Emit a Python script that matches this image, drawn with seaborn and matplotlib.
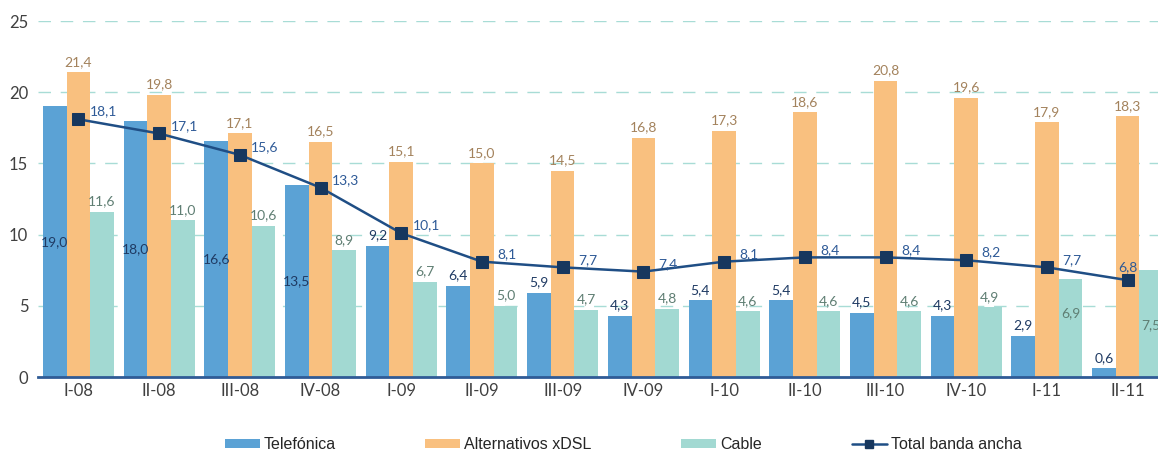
import numpy as np
import pandas as pd
import matplotlib
matplotlib.use("Agg")
import matplotlib.pyplot as plt
import seaborn as sns
from matplotlib.patches import Patch
from matplotlib.lines import Line2D
from matplotlib.ticker import FixedLocator

# ---------------- data ----------------
periods = ['I-08', 'II-08', 'III-08', 'IV-08', 'I-09', 'II-09', 'III-09', 'IV-09',
           'I-10', 'II-10', 'III-10', 'IV-10', 'I-11', 'II-11']
telefonica = [19.0, 18.0, 16.6, 13.5, 9.2, 6.4, 5.9, 4.3, 5.4, 5.4, 4.5, 4.3, 2.9, 0.6]
alternativos = [21.4, 19.8, 17.1, 16.5, 15.1, 15.0, 14.5, 16.8, 17.3, 18.6, 20.8, 19.6, 17.9, 18.3]
cable = [11.6, 11.0, 10.6, 8.9, 6.7, 5.0, 4.7, 4.8, 4.6, 4.6, 4.6, 4.9, 6.9, 7.5]
total = [18.1, 17.1, 15.6, 13.3, 10.1, 8.1, 7.7, 7.4, 8.1, 8.4, 8.4, 8.2, 7.7, 6.8]
series_names = ['Telefónica', 'Alternativos xDSL', 'Cable']
line_name = 'Total banda ancha'
yticks = [0, 5, 10, 15, 20, 25]

# ---------------- style ----------------
bar_colors = ['#5BA2D5', '#F9C07F', '#A2D9D2']
label_colors = ['#1F3A63', '#A3825C', '#5F7E73']
line_color = '#1F4E85'
marker_color = '#17375E'
line_label_color = '#2E5A97'
axis_color = '#2F5B96'
text_color = '#404040'

sns.set_theme(style='white')
plt.rcParams['font.family'] = ['Lato', 'DejaVu Sans']

df = pd.DataFrame({
    'period': np.tile(periods, 3),
    'serie': np.repeat(series_names, len(periods)),
    'value': telefonica + alternativos + cable,
})

fig = plt.figure(figsize=(11.58, 4.54), dpi=100)
ax = fig.add_axes([38 / 1158, 1 - 377 / 454, 1130 / 1158, 356 / 454])

sns.barplot(data=df, x='period', y='value', hue='serie', order=periods,
            hue_order=series_names, palette=bar_colors, saturation=1,
            width=0.88, errorbar=None, linewidth=0, legend=False, ax=ax)

xs = np.arange(len(periods))
sns.lineplot(x=xs, y=total, ax=ax, color=line_color, lw=1.8, marker='s',
             markersize=8, markerfacecolor=marker_color, markeredgecolor=marker_color,
             legend=False, sort=False)

ax.set_xlim(-0.5, len(periods) - 0.5)
ax.set_ylim(0, 25)
ax.set_yticks(yticks)
ax.set_xlabel('')
ax.set_ylabel('')

def fmt(v):
    return f"{v:.1f}".replace('.', ',')

# bar value labels
inside_cable_frac = {12: 0.65, 13: 0.49}
for si, cont in enumerate(ax.containers):
    for i, bar in enumerate(cont):
        v = bar.get_height()
        cx = bar.get_x() + bar.get_width() / 2
        if si == 0 and v > 10:
            ax.text(cx, v / 2, fmt(v), ha='center', va='center', fontsize=10,
                    color=label_colors[si])
        elif si == 2 and i in inside_cable_frac:
            ax.text(cx, v * inside_cable_frac[i], fmt(v), ha='center', va='center',
                    fontsize=10, color=label_colors[si], clip_on=False)
        else:
            ax.annotate(fmt(v), (cx, v), xytext=(0, 7.5), textcoords='offset points',
                        ha='center', va='center', fontsize=10, color=label_colors[si])

# line labels
for i, v in enumerate(total):
    if i == len(total) - 1:
        off = (0, 9.5)
    else:
        off = (18, 5.5)
    ax.annotate(fmt(v), (i, v), xytext=off, textcoords='offset points',
                ha='center', va='center', fontsize=10, color=line_label_color)

# axes styling
for s in ['top', 'right', 'left']:
    ax.spines[s].set_visible(False)
ax.spines['bottom'].set_color(axis_color)
ax.spines['bottom'].set_linewidth(2)
ax.set_axisbelow(True)
ax.yaxis.grid(True, linestyle=(0, (9, 7)), color='#A8DCD6', lw=1)
ax.xaxis.grid(False)
ax.tick_params(axis='y', length=0, pad=7, labelsize=12, labelcolor=text_color)
ax.tick_params(axis='x', which='major', length=0, pad=4, labelsize=12, labelcolor=text_color)
ax.xaxis.set_minor_locator(FixedLocator(np.arange(-0.5, len(periods), 1.0)))
ax.tick_params(axis='x', which='minor', length=4, width=1.5, color=axis_color, direction='out')

# legend
handles = [Patch(facecolor=c, edgecolor='none', label=n) for c, n in zip(bar_colors, series_names)]
handles.append(Line2D([0], [0], color=line_color, lw=1.8, marker='s', markersize=6,
                      markerfacecolor=marker_color, markeredgecolor=marker_color, label=line_name))
leg = fig.legend(handles=handles, loc='center', bbox_to_anchor=(0.538, 0.02), ncol=4,
                 frameon=False, handlelength=2.2, handleheight=0.45, handletextpad=0.25,
                 columnspacing=5.6,
                 prop={'family': ['Liberation Sans Narrow', 'Liberation Sans'], 'size': 11.5})
for t in leg.get_texts():
    t.set_color('#262626')

fig.savefig('out.png', dpi=100)
